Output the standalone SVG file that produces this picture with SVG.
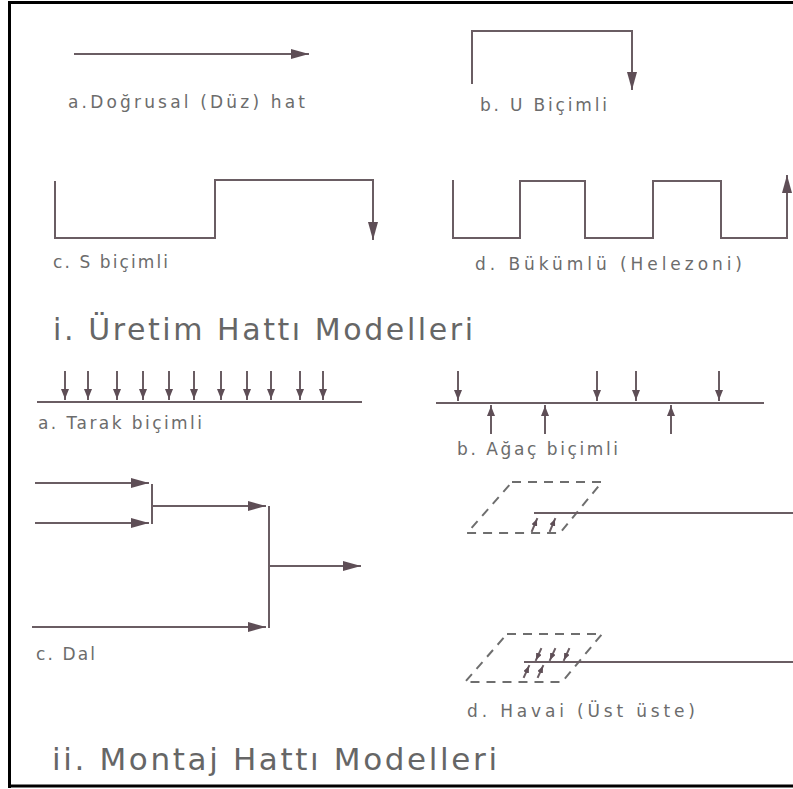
<svg xmlns="http://www.w3.org/2000/svg" width="793" height="789" viewBox="0 0 793 789">
<style>
.ln{fill:none;stroke:#6a5d63;stroke-width:2;stroke-linecap:square}
.ds{fill:none;stroke:#6e6e6e;stroke-width:2;stroke-dasharray:9 7}
.lb{font-family:"DejaVu Sans",sans-serif;font-size:17px;fill:#6c6c6c}
.hd{font-family:"DejaVu Sans",sans-serif;fill:#666}
.fr{stroke:#000;stroke-width:3}
</style>
<defs>
<marker id="ah" markerUnits="userSpaceOnUse" markerWidth="18" markerHeight="10" refX="17" refY="5" orient="auto"><path d="M0,0 L18,5 L0,10 z" fill="#5e4e56"/></marker>
<marker id="as" markerUnits="userSpaceOnUse" markerWidth="10" markerHeight="8" refX="10" refY="4" orient="auto"><path d="M0,0 L10,4 L0,8 z" fill="#5e4e56"/></marker>
<marker id="at" markerUnits="userSpaceOnUse" markerWidth="7" markerHeight="6" refX="7" refY="3" orient="auto"><path d="M0,0 L7,3 L0,6 z" fill="#5e4e56"/></marker>
</defs>
<rect width="793" height="789" fill="#fff"/>
<g id="frame">
<line class="fr" x1="9.5" y1="1" x2="9.5" y2="788"/>
<line class="fr" x1="8" y1="2.5" x2="793" y2="2.5"/>
<line class="fr" x1="8" y1="786" x2="793" y2="786"/>
</g>
<g id="connectors">
<path class="ln" d="M75,54 H308" marker-end="url(#ah)"/>
<path class="ln" d="M472,83 V31 H632 V89" marker-end="url(#ah)"/>
<path class="ln" d="M55,182 V238 H215 V180 H373 V239" marker-end="url(#ah)"/>
<path class="ln" d="M453,181 V238 H520 V181 H585 V238 H653 V181 H721 V238 H787 V176" marker-end="url(#ah)"/>
<path class="ln" d="M38,402 H361"/>
<g>
<path class="ln" d="M65,372 V399" marker-end="url(#as)"/>
<path class="ln" d="M88,372 V399" marker-end="url(#as)"/>
<path class="ln" d="M117,372 V399" marker-end="url(#as)"/>
<path class="ln" d="M143,372 V399" marker-end="url(#as)"/>
<path class="ln" d="M169,372 V399" marker-end="url(#as)"/>
<path class="ln" d="M194,372 V399" marker-end="url(#as)"/>
<path class="ln" d="M221,372 V399" marker-end="url(#as)"/>
<path class="ln" d="M247,372 V399" marker-end="url(#as)"/>
<path class="ln" d="M271,372 V399" marker-end="url(#as)"/>
<path class="ln" d="M300,372 V399" marker-end="url(#as)"/>
<path class="ln" d="M323,372 V399" marker-end="url(#as)"/>
</g>
<path class="ln" d="M437,403 H763"/>
<path class="ln" d="M458,372 V400" marker-end="url(#as)"/>
<path class="ln" d="M597,372 V400" marker-end="url(#as)"/>
<path class="ln" d="M636,372 V400" marker-end="url(#as)"/>
<path class="ln" d="M719,372 V400" marker-end="url(#as)"/>
<path class="ln" d="M491,433 V406" marker-end="url(#as)"/>
<path class="ln" d="M545,433 V406" marker-end="url(#as)"/>
<path class="ln" d="M671,433 V406" marker-end="url(#as)"/>
<path class="ln" d="M36,483 H148" marker-end="url(#ah)"/>
<path class="ln" d="M36,523 H148" marker-end="url(#ah)"/>
<path class="ln" d="M152,485 V523"/>
<path class="ln" d="M152,506 H265" marker-end="url(#ah)"/>
<path class="ln" d="M269,507 V627"/>
<path class="ln" d="M269,566 H360" marker-end="url(#ah)"/>
<path class="ln" d="M33,627 H265" marker-end="url(#ah)"/>
<path class="ds" d="M512,482 H602 L560,533 H467 Z"/>
<path class="ln" d="M535,513 H793"/>
<path class="ln" d="M532,531 L537,519" marker-end="url(#at)"/>
<path class="ln" d="M550,531 L555,519" marker-end="url(#at)"/>
<path class="ds" d="M507,634 H602 L562,682 H465 Z"/>
<path class="ln" d="M525,662 H793"/>
<path class="ln" d="M541,649 L536,660" marker-end="url(#at)"/>
<path class="ln" d="M555,649 L550,660" marker-end="url(#at)"/>
<path class="ln" d="M569,649 L564,660" marker-end="url(#at)"/>
<path class="ln" d="M524,677 L529,666" marker-end="url(#at)"/>
<path class="ln" d="M538,677 L543,666" marker-end="url(#at)"/>
</g>
<g id="labels">
<text class="lb" x="68" y="108" textLength="237" lengthAdjust="spacing">a.Doğrusal (Düz)  hat</text>
<text class="lb" x="480" y="111" textLength="127" lengthAdjust="spacing">b. U Biçimli</text>
<text class="lb" x="53" y="268" textLength="115" lengthAdjust="spacing">c. S biçimli</text>
<text class="lb" x="475" y="270" textLength="267" lengthAdjust="spacing">d. Bükümlü  (Helezoni)</text>
<text class="lb" x="38" y="429" textLength="164" lengthAdjust="spacing">a. Tarak biçimli</text>
<text class="lb" x="457" y="455" textLength="161" lengthAdjust="spacing">b. Ağaç biçimli</text>
<text class="lb" x="36" y="660" textLength="59" lengthAdjust="spacing">c. Dal</text>
<text class="lb" x="467" y="717" textLength="228" lengthAdjust="spacing">d. Havai  (Üst üste)</text>
<text class="hd" x="53" y="340" font-size="30" textLength="420" lengthAdjust="spacing">i. Üretim Hattı Modelleri</text>
<text class="hd" x="52" y="770" font-size="31" textLength="445" lengthAdjust="spacing">ii. Montaj Hattı Modelleri</text>
</g>
</svg>
